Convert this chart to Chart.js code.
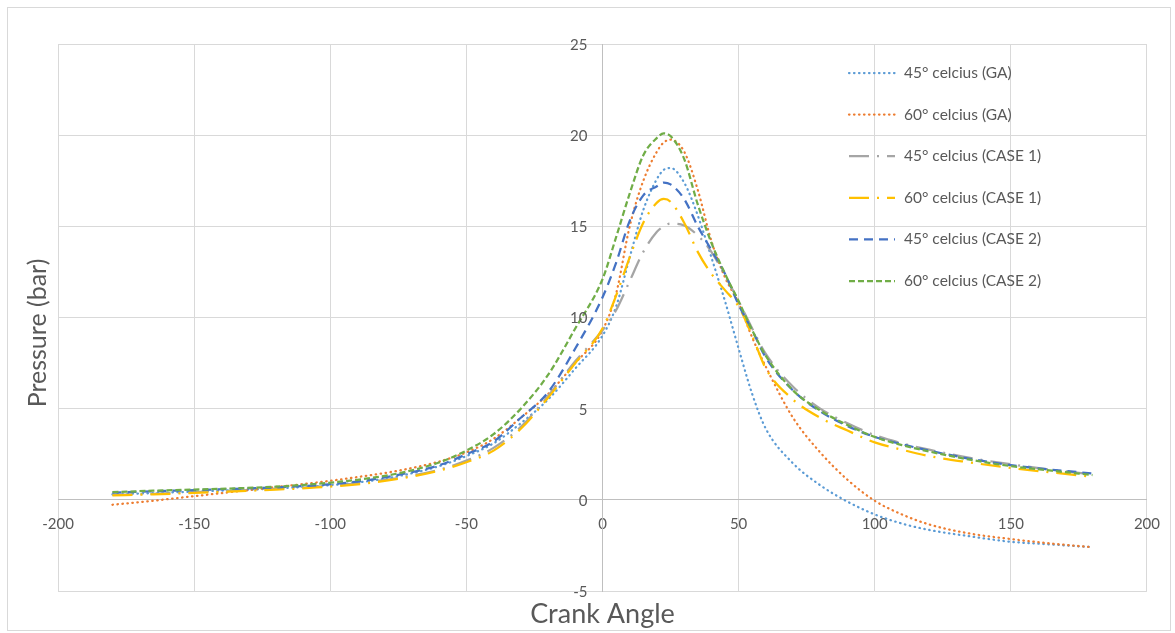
<!DOCTYPE html>
<html>
<head>
<meta charset="utf-8">
<script src="https://cdn.jsdelivr.net/npm/chart.js@4.4.1/dist/chart.umd.min.js"></script>
<style>
  html, body { margin: 0; padding: 0; background: #fff; }
</style>
</head>
<body>
<canvas id="myChart" width="1175" height="633"></canvas>
<script>
// goc quay truc khuyu (Crank Angle)
var angles = [-180, -165, -150, -135, -120, -105, -90, -75, -60, -50, -40, -30, -20, -10, 0, 5, 10, 15, 20, 22.5, 25,
              30, 35, 40, 45, 50, 55, 60, 70, 80, 90, 100, 110, 120, 135, 150, 165, 180];

var labels = ['45° celcius (GA)', '60° celcius (GA)', '45° celcius (CASE 1)',
              '60° celcius (CASE 1)', '45° celcius (CASE 2)', '60° celcius (CASE 2)'];

var ga45 = [0.3, 0.37, 0.45, 0.53, 0.62, 0.75, 0.95, 1.3, 1.85, 2.4, 3.1, 4.2, 5.5, 7.2, 9.0, 10.6, 13.3, 15.9, 17.6, 18.1, 18.2,
            17.4, 15.6, 13.3, 10.9, 8.3, 5.8, 3.9, 2.0, 0.8, -0.1, -0.8, -1.3, -1.65, -2.0, -2.3, -2.45, -2.6];
var ga60 = [-0.27, -0.05, 0.2, 0.45, 0.7, 0.95, 1.25, 1.6, 2.1, 2.6, 3.35, 4.5, 5.8, 7.5, 9.3, 11.3, 15.0, 17.5, 19.1, 19.6, 19.75,
            19.1, 17.0, 14.2, 12.2, 10.8, 8.9, 7.3, 4.5, 2.6, 1.1, -0.05, -0.8, -1.35, -1.85, -2.15, -2.4, -2.6];
var case1_45 = [0.27, 0.33, 0.42, 0.5, 0.6, 0.72, 0.9, 1.2, 1.65, 2.15, 2.85, 4.0, 5.7, 7.6, 9.3, 10.4, 12.0, 13.6, 14.7, 15.0, 15.15,
                15.05, 14.5, 13.6, 12.3, 10.9, 9.4, 8.0, 6.2, 5.0, 4.2, 3.55, 3.1, 2.75, 2.3, 1.95, 1.65, 1.4];
var case1_60 = [0.24, 0.3, 0.38, 0.47, 0.56, 0.68, 0.85, 1.15, 1.6, 2.06, 2.7, 3.9, 5.6, 7.5, 9.4, 11.2, 13.3, 15.2, 16.3, 16.5, 16.35,
                15.2, 13.6, 12.4, 11.5, 10.6, 9.0, 7.2, 5.5, 4.5, 3.8, 3.15, 2.75, 2.4, 2.05, 1.75, 1.5, 1.26];
var case2_45 = [0.4, 0.47, 0.53, 0.6, 0.68, 0.8, 1.0, 1.37, 1.9, 2.5, 3.2, 4.5, 5.9, 8.3, 11.1, 13.0, 15.3, 16.7, 17.2, 17.4, 17.3,
                16.5, 15.0, 13.7, 12.4, 10.7, 9.3, 7.8, 6.0, 4.85, 4.05, 3.45, 3.05, 2.7, 2.25, 1.9, 1.65, 1.45];
var case2_60 = [0.42, 0.5, 0.56, 0.63, 0.72, 0.88, 1.1, 1.45, 2.05, 2.7, 3.6, 5.0, 6.85, 9.4, 12.1, 14.4, 16.8, 18.9, 19.85, 20.1, 19.95,
                18.7, 16.2, 14.1, 12.4, 10.9, 9.3, 7.9, 6.0, 4.9, 4.1, 3.45, 3.0, 2.65, 2.2, 1.85, 1.6, 1.36];

var series = [ga45, ga60, case1_45, case1_60, case2_45, case2_60];
var colors = ['#5B9BD5', '#ED7D31', '#A5A5A5', '#FFC000', '#4472C4', '#70AD47'];
var dashes = [[0.5, 4.5], [0.5, 4.5], [20, 8, 2, 8], [20, 8, 2, 8], [9, 6], [6, 3]];
var caps = ['round', 'round', 'butt', 'butt', 'butt', 'butt'];

function toPoints(arr) {
    return arr.map(function (v, i) { return { x: angles[i], y: v }; });
}

var datasets = series.map(function (arr, i) {
    return {
        label: labels[i],
        data: toPoints(arr),
        borderColor: colors[i],
        backgroundColor: colors[i],
        borderWidth: 2.25,
        borderDash: dashes[i],
        borderCapStyle: caps[i],
        pointRadius: 0,
        cubicInterpolationMode: 'monotone',
        fill: false,
        order: 6 - i
    };
});

var FONT = "Lato, 'Open Sans', sans-serif";
var TEXT = '#595959';

// khung, tieu de truc, nhan truc y va chu thich
var extras = {
    id: 'extras',
    beforeDraw(chart) {
        var ctx = chart.ctx;
        ctx.save();
        ctx.fillStyle = '#fff';
        ctx.fillRect(0, 0, chart.width, chart.height);
        ctx.strokeStyle = '#d9d9d9';
        ctx.lineWidth = 1;
        ctx.strokeRect(7.5, 7.5, chart.width - 12, chart.height - 10);
        ctx.restore();
    },
    afterDraw(chart) {
        var ctx = chart.ctx;
        var a = chart.chartArea;
        var xs = chart.scales.x;
        var ys = chart.scales.y;

        // nhan truc y, dat ben trai truc x = 0
        ctx.save();
        ctx.fillStyle = TEXT;
        ctx.font = '15px ' + FONT;
        ctx.textAlign = 'right';
        ctx.textBaseline = 'middle';
        var x0 = xs.getPixelForValue(0);
        ys.ticks.forEach(function (t) {
            ctx.fillText(String(t.value), x0 - 15, ys.getPixelForValue(t.value) + 1);
        });
        ctx.restore();

        ctx.save();
        ctx.fillStyle = TEXT;
        ctx.font = '27px ' + FONT;
        ctx.textAlign = 'center';
        ctx.textBaseline = 'middle';
        ctx.fillText('Crank Angle', (a.left + a.right) / 2, a.bottom + 23);
        ctx.translate(38, 333);
        ctx.rotate(-Math.PI / 2);
        ctx.font = '25px ' + FONT;
        ctx.fillText('Pressure (bar)', 0, 0);
        ctx.restore();

        // legend
        ctx.save();
        ctx.font = '15.5px ' + FONT;
        ctx.textBaseline = 'middle';
        ctx.textAlign = 'left';
        chart.data.datasets.forEach(function (ds, i) {
            var y = 73 + i * 41.6;
            ctx.beginPath();
            ctx.strokeStyle = ds.borderColor;
            ctx.lineWidth = ds.borderWidth;
            ctx.lineCap = ds.borderCapStyle;
            ctx.setLineDash(ds.borderDash);
            ctx.moveTo(849, y);
            ctx.lineTo(895, y);
            ctx.stroke();
            ctx.setLineDash([]);
            ctx.fillStyle = TEXT;
            ctx.fillText(ds.label, 904, y);
        });
        ctx.restore();
    }
};

var ctx = document.getElementById('myChart').getContext('2d');
new Chart(ctx, {
    type: 'line',
    data: { datasets: datasets },
    plugins: [extras],
    options: {
        responsive: false,
        animation: false,
        layout: { padding: { left: 58, top: 44, right: 26, bottom: 42 } },
        plugins: {
            legend: { display: false },
            tooltip: { enabled: false }
        },
        scales: {
            x: {
                type: 'linear',
                min: -200,
                max: 200,
                position: { y: 0 },
                afterFit: function (s) { s.height = 0; },
                ticks: { stepSize: 50, color: TEXT, font: { size: 15, family: FONT }, padding: 15, maxRotation: 0 },
                grid: { color: '#d9d9d9', drawTicks: false },
                border: { color: '#bfbfbf' }
            },
            y: {
                type: 'linear',
                min: -5,
                max: 25,
                position: { x: 0 },
                afterFit: function (s) { s.width = 0; },
                ticks: { stepSize: 5, display: false },
                grid: { color: '#d9d9d9', drawTicks: false },
                border: { color: '#bfbfbf' }
            }
        }
    }
});
</script>
</body>
</html>
